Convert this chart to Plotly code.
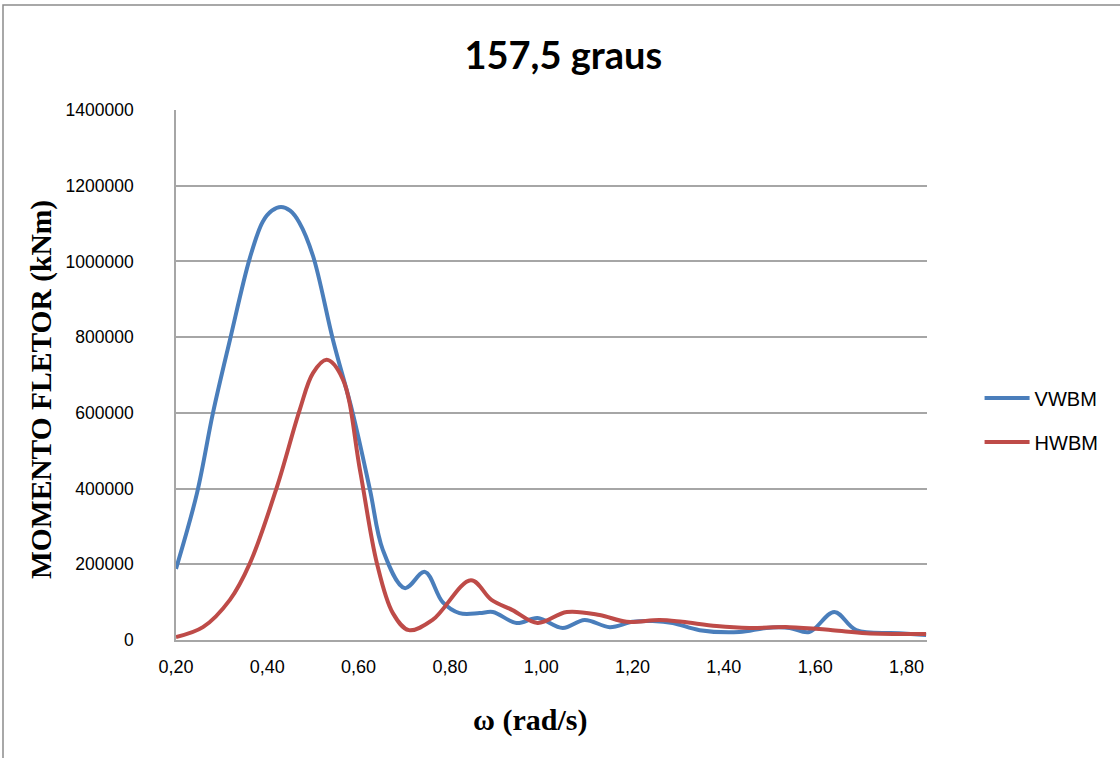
import plotly.graph_objects as go

# Frequency (rad/s) and bending-moment amplitude (kNm) for each series
omega_v = [0.20, 0.246, 0.281, 0.318, 0.362, 0.390, 0.410, 0.430, 0.450, 0.470,
           0.500, 0.544, 0.587, 0.625, 0.653, 0.701, 0.745, 0.784, 0.821, 0.865,
           0.894, 0.946, 0.992, 1.047, 1.095, 1.150, 1.200, 1.244, 1.288, 1.347,
           1.434, 1.493, 1.544, 1.587, 1.642, 1.690, 1.784, 1.843]
vwbm = [188000, 388000, 600000, 792000, 1010000, 1105000, 1134000, 1144000, 1134000, 1103000,
        1015000, 792000, 600000, 396000, 238000, 137000, 180000, 100000, 71000, 71000,
        74000, 45000, 58000, 32000, 53000, 34000, 48000, 50000, 45000, 26000,
        21000, 32000, 32000, 21000, 74000, 26000, 18000, 13000]

omega_h = [0.20, 0.259, 0.318, 0.362, 0.421, 0.471, 0.500, 0.530, 0.565, 0.603,
           0.640, 0.675, 0.710, 0.762, 0.846, 0.891, 0.937, 0.992, 1.056, 1.128,
           1.187, 1.259, 1.309, 1.384, 1.456, 1.544, 1.638, 1.712, 1.843]
hwbm = [8000, 34000, 106000, 203000, 404000, 608000, 705000, 740000, 690000, 449000,
        203000, 71000, 26000, 53000, 158000, 106000, 79000, 45000, 74000, 66000,
        48000, 53000, 48000, 37000, 32000, 34000, 26000, 18000, 16000]

x_ticks = [0.2, 0.4, 0.6, 0.8, 1.0, 1.2, 1.4, 1.6, 1.8]
x_tick_text = ["0,20", "0,40", "0,60", "0,80", "1,00", "1,20", "1,40", "1,60", "1,80"]
y_ticks = [0, 200000, 400000, 600000, 800000, 1000000, 1200000, 1400000]
y_tick_text = [str(v) for v in y_ticks]

BLUE = "#4A7EBB"
RED = "#BE4B48"
GRID = "#A6A6A6"
SANS = "Liberation Sans"
TITLE_FONT = "Lato"
SERIF = "Liberation Serif"

fig = go.Figure()
fig.add_trace(go.Scatter(x=omega_v, y=vwbm, mode="lines", name="VWBM",
                         legendgroup="v",
                         line=dict(color=BLUE, width=4, shape="spline", smoothing=1.0)))
fig.add_trace(go.Scatter(x=omega_h, y=hwbm, mode="lines", name="HWBM",
                         legendgroup="h",
                         line=dict(color=RED, width=4, shape="spline", smoothing=1.0)))

fig.update_layout(
    width=1120, height=758,
    margin=dict(l=176, r=193, t=110, b=118),
    paper_bgcolor="white", plot_bgcolor="white",
    title=dict(text="<b>157,5 graus</b>", x=0.503, xanchor="center",
               y=0.927, yanchor="middle",
               font=dict(family=TITLE_FONT, size=38, color="black")),
    xaxis=dict(range=[0.2, 1.845], tickvals=x_ticks, ticktext=x_tick_text,
               showgrid=False, showline=True, linecolor=GRID, linewidth=1.5,
               ticks="", ticklabelstandoff=10,
               tickfont=dict(family=SANS, size=18, color="black"),
               zeroline=False),
    yaxis=dict(range=[0, 1400000], tickvals=y_ticks, ticktext=y_tick_text,
               showgrid=True, gridcolor=GRID, gridwidth=1.5,
               showline=True, linecolor=GRID, linewidth=1.5,
               ticks="", ticklabelstandoff=37,
               tickfont=dict(family=SANS, size=17.5, color="black"),
               zeroline=False),
    legend=dict(x=1.07, xanchor="left", y=0.415, yanchor="middle",
                traceorder="grouped", tracegroupgap=15, itemwidth=45,
                font=dict(family=SANS, size=20, color="black"),
                bgcolor="rgba(0,0,0,0)"),
    showlegend=True,
)

# Axis titles
fig.add_annotation(text="<b>MOMENTO FLETOR (kNm)</b>", textangle=-90,
                   xref="paper", yref="paper", x=(41 - 176) / 751, y=(640 - 390) / 530,
                   xanchor="center", yanchor="middle", showarrow=False,
                   font=dict(family=SERIF, size=29.5, color="black"))
fig.add_annotation(text="<b>ω (rad/s)</b>",
                   xref="paper", yref="paper", x=(530 - 176) / 751, y=(640 - 720) / 530,
                   xanchor="center", yanchor="middle", showarrow=False,
                   font=dict(family=SERIF, size=30, color="black"))

# Chart-area border (right and bottom edges run past the canvas)
fig.add_shape(type="rect", xref="paper", yref="paper",
              x0=-173 / 751, x1=1.0 + 220 / 751,
              y0=-(118 + 20) / 530, y1=1.0 + (110 - 5) / 530,
              line=dict(color="#8C8C8C", width=1.5), layer="below")

fig.write_html("out.html")
